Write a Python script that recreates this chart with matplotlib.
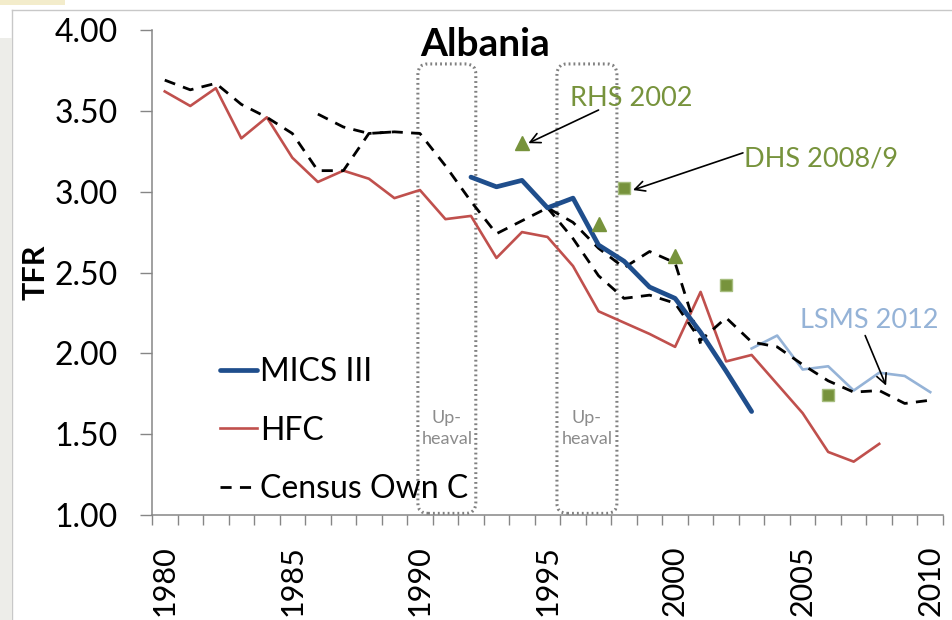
import matplotlib
matplotlib.use("Agg")
import matplotlib.pyplot as plt
from matplotlib.patches import FancyBboxPatch, Rectangle
from matplotlib.lines import Line2D

plt.rcParams['font.family'] = ['Lato', 'DejaVu Sans']

# --- data ---
hfc_years = list(range(1980, 2009))
hfc = [3.62, 3.53, 3.64, 3.33, 3.46, 3.21, 3.06, 3.13, 3.08, 2.96,
       3.01, 2.83, 2.85, 2.59, 2.75, 2.72, 2.54, 2.26, 2.19, 2.12,
       2.04, 2.38, 1.95, 1.99, 1.81, 1.63, 1.39, 1.33, 1.44]

mics_years = list(range(1992, 2004))
mics = [3.09, 3.03, 3.07, 2.90, 2.96, 2.67, 2.57, 2.41, 2.34, 2.13, 1.89, 1.64]

lsms_years = list(range(2003, 2011))
lsms = [2.03, 2.11, 1.90, 1.92, 1.77, 1.88, 1.86, 1.76]

census_a_years = list(range(1980, 1990))
census_a = [3.69, 3.63, 3.67, 3.54, 3.46, 3.36, 3.13, 3.13, 3.36, 3.37]

census_b_years = list(range(1986, 2002))
census_b = [3.48, 3.40, 3.36, 3.37, 3.36, 3.16, 2.94, 2.74, 2.82, 2.90,
            2.81, 2.65, 2.53, 2.63, 2.56, 2.06]

census_c_years = list(range(1995, 2011))
census_c = [2.90, 2.71, 2.48, 2.34, 2.36, 2.31, 2.08, 2.22, 2.07, 2.04,
            1.93, 1.83, 1.76, 1.77, 1.69, 1.71]

rhs_years = [1994, 1997, 2000]
rhs = [3.30, 2.80, 2.60]
dhs_years = [1998, 2002, 2006]
dhs = [3.02, 2.42, 1.74]

upheavals = [(1989.92, 1992.19), (1995.37, 1997.72)]

# --- colours ---
c_mics = '#1F4E8C'
c_hfc = '#C0504D'
c_lsms = '#95B3D7'
c_green = '#77933C'
c_axis = '#868686'

fig = plt.figure(figsize=(9.52, 6.2), dpi=100)
ax = fig.add_axes([152/952, 1 - 515/620, 791/952, 485/620])

# frame decoration of the original slide
fig.patches.append(Rectangle((0, 0), 12/952, 582/620, transform=fig.transFigure,
                             facecolor='#EDEDE9', edgecolor='none', zorder=-1))
fig.patches.append(Rectangle((0, 615/620), 65/952, 5/620, transform=fig.transFigure,
                             facecolor='#F3ECCB', edgecolor='none', zorder=-1))
fig.lines.append(Line2D([12/952, 12/952], [0, 610/620], transform=fig.transFigure,
                        color='#C8C8C8', lw=1, zorder=-1))
fig.lines.append(Line2D([12/952, 1], [610/620, 610/620], transform=fig.transFigure,
                        color='#C8C8C8', lw=1, zorder=-1))

dash = (0, (4, 3))
ax.plot(census_a_years, census_a, color='black', lw=2, linestyle=dash, zorder=3)
ax.plot(census_b_years, census_b, color='black', lw=2, linestyle=dash, zorder=3)
ax.plot(census_c_years, census_c, color='black', lw=2, linestyle=dash, zorder=3)
ax.plot(hfc_years, hfc, color=c_hfc, lw=1.9, zorder=2)
ax.plot(lsms_years, lsms, color=c_lsms, lw=1.9, zorder=2)
ax.plot(mics_years, mics, color=c_mics, lw=3.4, solid_capstyle='round', zorder=4)

ax.plot(rhs_years, rhs, linestyle='none', marker='^', markersize=10,
        color=c_green, zorder=5)
ax.plot(dhs_years, dhs, linestyle='none', marker='s', markersize=9,
        markerfacecolor=c_green, markeredgecolor='#A6BD7E', markeredgewidth=1, zorder=5)

# up-heaval boxes
for x0, x1 in upheavals:
    box = FancyBboxPatch((x0, 1.01), x1 - x0, 3.79 - 1.01,
                         boxstyle='round,pad=0,rounding_size=0.4',
                         mutation_aspect=0.158, facecolor='none',
                         edgecolor='#808080', lw=2.2, linestyle=(0, (0.6, 1.0)),
                         zorder=1)
    ax.add_patch(box)
    ax.text((x0 + x1) / 2, 1.535, 'Up-\nheaval', ha='center', va='center',
            fontsize=13, color='#8C8C8C', linespacing=1.35, zorder=1)

# annotations: labels and arrows
arrow = dict(arrowstyle='->', color='black', lw=1.2, shrinkA=0, shrinkB=0,
             mutation_scale=18)
ax.annotate('', xy=(1994.25, 3.30), xytext=(1997.0, 3.505), arrowprops=arrow)
ax.annotate('', xy=(1998.35, 3.01), xytext=(2002.66, 3.24), arrowprops=arrow)
ax.annotate('', xy=(2008.27, 1.80), xytext=(2007.45, 2.11), arrowprops=arrow)
ax.text(1995.9, 3.575, 'RHS 2002', fontsize=19.5, color=c_green, ha='left', va='center')
ax.text(2002.7, 3.205, 'DHS 2008/9', fontsize=19.5, color=c_green, ha='left', va='center')
ax.text(2004.9, 2.20, 'LSMS 2012', fontsize=19.5, color=c_lsms, ha='left', va='center')

ax.text(0.421, 0.97, 'Albania', transform=ax.transAxes, ha='center', va='center',
        fontsize=28, fontweight='bold')

# axes
ax.set_xlim(1979.5, 2010.5)
ax.set_ylim(1.0, 4.0)
ax.set_xticks(list(range(1980, 2011, 5)))
ax.set_xticks([y + 0.5 for y in range(1979, 2011)], minor=True)
ax.tick_params(axis='x', which='major', length=0, labelsize=22, rotation=90, pad=22)
ax.tick_params(axis='x', which='minor', length=7.5, width=1, color=c_axis, direction='out')
ax.set_yticks([1.0, 1.5, 2.0, 2.5, 3.0, 3.5, 4.0])
ax.set_yticklabels([f'{v:.2f}' for v in ax.get_yticks()])
ax.tick_params(axis='y', length=8.5, width=1, color=c_axis, labelsize=23, pad=16)
for s in ['top', 'right']:
    ax.spines[s].set_visible(False)
for s in ['left', 'bottom']:
    ax.spines[s].set_color(c_axis)
    ax.spines[s].set_linewidth(1.1)
ax.set_ylabel('TFR', fontsize=22, fontweight='bold')
ax.yaxis.set_label_coords(-0.129, 0.5)

handles = [Line2D([], [], color=c_mics, lw=3.4, solid_capstyle='round'),
           Line2D([], [], color=c_hfc, lw=1.9),
           Line2D([], [], color='black', lw=2, linestyle=dash)]
ax.legend(handles, ['MICS III', 'HFC', 'Census Own C'], loc='center left',
          bbox_to_anchor=(0.066, 0.174), frameon=False, fontsize=23,
          handlelength=1.15, handletextpad=0.1, labelspacing=0.9, borderpad=0)

fig.savefig('out.png', dpi=100)
